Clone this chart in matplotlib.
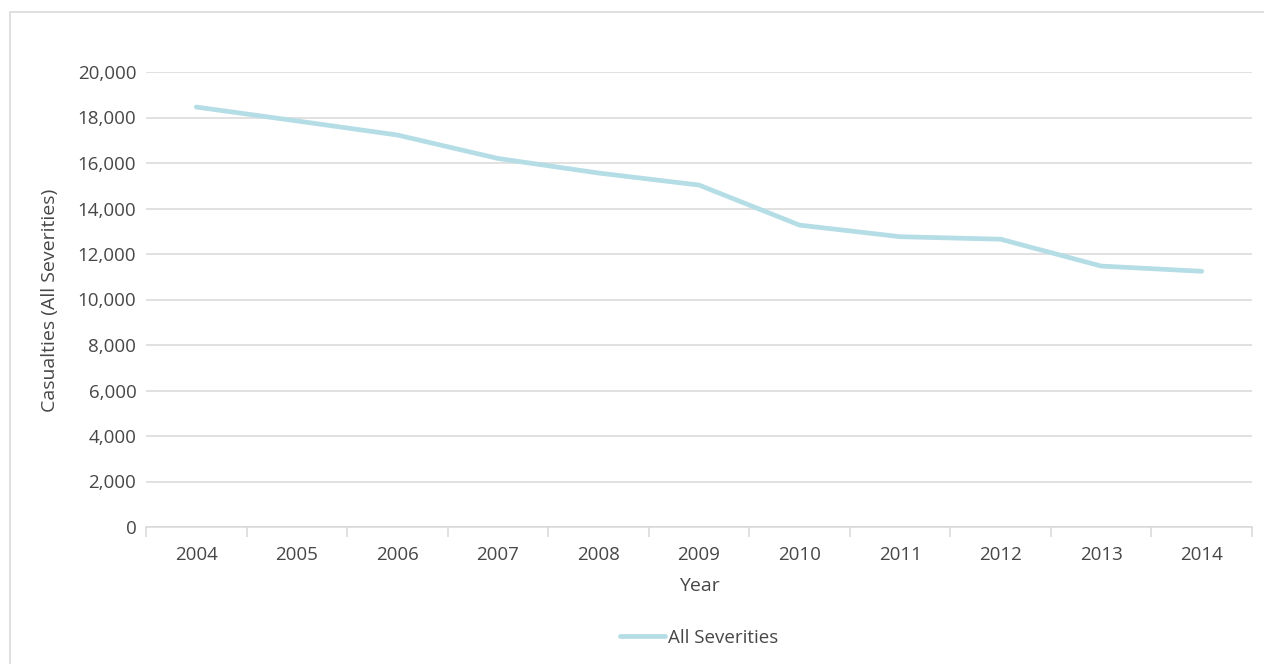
import numpy as np
import matplotlib.pyplot as plt
from matplotlib.patches import Rectangle
from matplotlib.ticker import FuncFormatter

years = ["2004", "2005", "2006", "2007", "2008", "2009",
         "2010", "2011", "2012", "2013", "2014"]
casualties = [18460, 17850, 17230, 16200, 15560, 15030,
              13270, 12760, 12650, 11470, 11240]
yticks = [0, 2000, 4000, 6000, 8000, 10000, 12000, 14000, 16000, 18000, 20000]

TEXT = "#474747"
GRID = "#d9d9d9"
LINE = "#b4dde6"
W, H = 1264, 664

plt.rcParams["font.family"] = ["Open Sans", "DejaVu Sans"]

fig = plt.figure(figsize=(W / 100, H / 100), dpi=100)
ax = fig.add_axes([146 / W, 1 - 527 / H, (1252 - 146) / W, (527 - 72) / H])

# chart frame
fig.patches.append(Rectangle((9.5 / W, -0.1), 1.2, (H - 11.5) / H + 0.1,
                             transform=fig.transFigure, fill=False,
                             edgecolor=GRID, linewidth=1.2))

x = np.arange(len(years))
ax.plot(x, casualties, color=LINE, linewidth=3.4, solid_capstyle="round",
        label="All Severities")

ax.set_xlim(-0.5, len(years) - 0.5)
ax.set_ylim(0, 20000)
ax.set_yticks(yticks)
ax.yaxis.set_major_formatter(FuncFormatter(lambda v, p: f"{int(v):,}"))
ax.yaxis.grid(True, color=GRID, linewidth=1.1)
ax.set_axisbelow(True)

ax.set_xticks(x)
ax.set_xticklabels(years)
ax.set_xticks(np.arange(-0.5, len(years)), minor=True)
ax.tick_params(axis="x", which="major", length=0, pad=14, labelsize=13.5, labelcolor=TEXT)
ax.tick_params(axis="x", which="minor", length=7, color=GRID, width=1.1)
ax.tick_params(axis="y", length=0, pad=7, labelsize=13.5, labelcolor=TEXT)

for s in ["top", "right", "left"]:
    ax.spines[s].set_visible(False)
ax.spines["bottom"].set_color(GRID)
ax.spines["bottom"].set_linewidth(1.1)

fig.text(699 / W, 1 - 586 / H, "Year", ha="center", va="center",
         fontsize=14, color=TEXT)
fig.text(50 / W, 1 - 300 / H, "Casualties (All Severities)", ha="center",
         va="center", rotation=90, fontsize=14, color=TEXT)

fig.legend(loc="center", bbox_to_anchor=(699 / W, 1 - 638 / H), frameon=False,
           fontsize=13.5, labelcolor=TEXT, handlelength=2.4, handletextpad=0.15)

fig.savefig("out.png", dpi=100)
